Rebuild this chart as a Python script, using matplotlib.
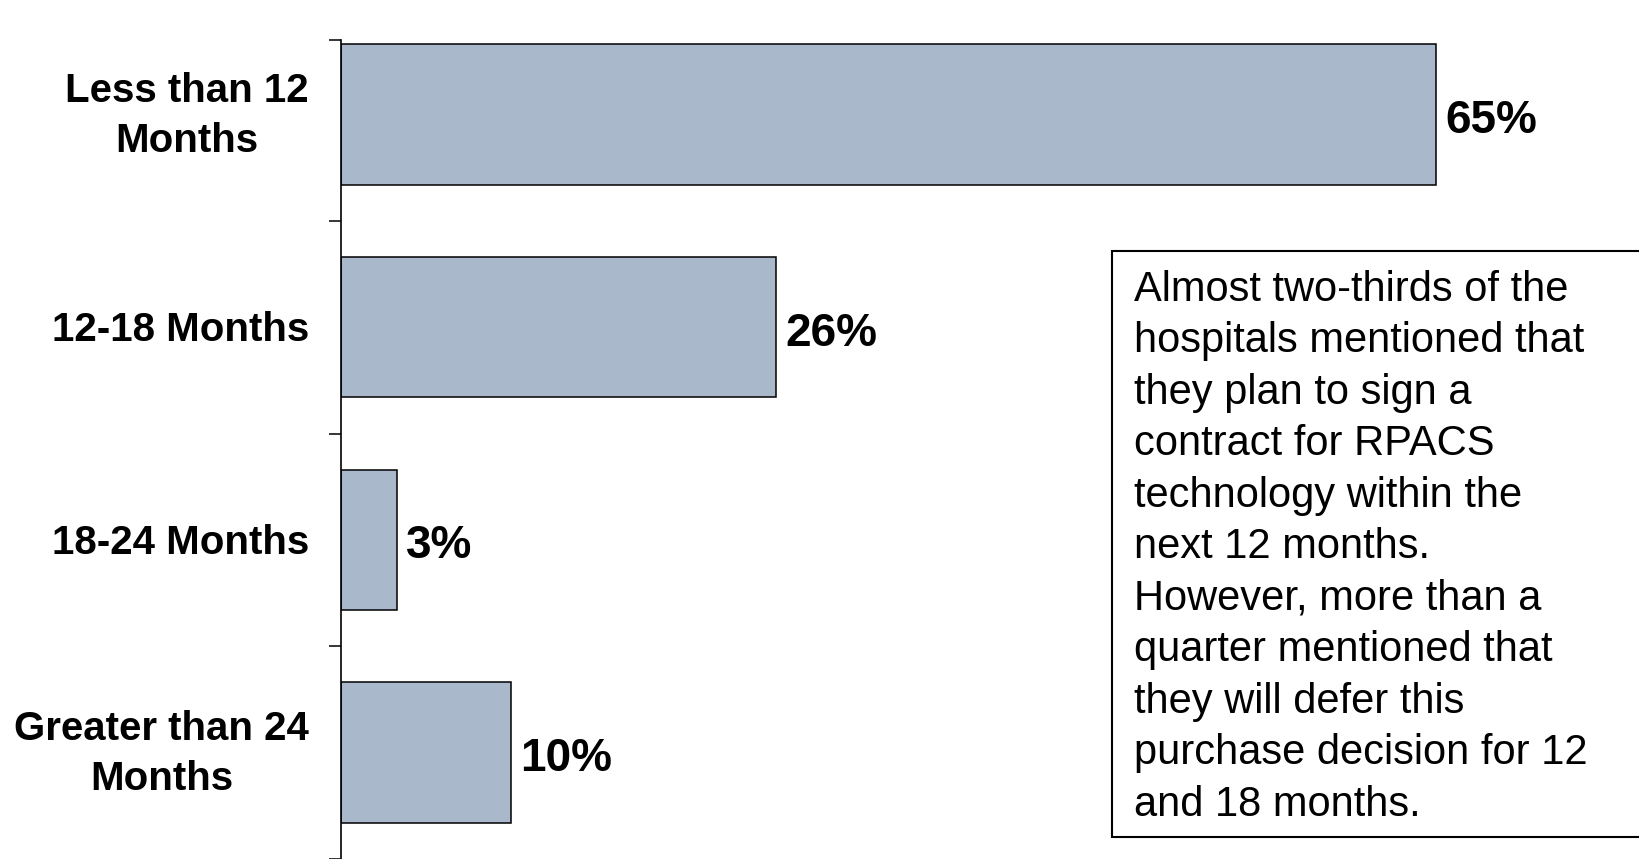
import matplotlib
matplotlib.use('Agg')
import matplotlib.pyplot as plt
from matplotlib.patches import Rectangle

plt.rcParams['font.family'] = ['Liberation Sans', 'DejaVu Sans']

categories = ['Less than 12\nMonths', '12-18 Months', '18-24 Months', 'Greater than 24\nMonths']
values = [65, 25.8, 3.3, 10.1]
note = ('Almost two-thirds of the\n'
        'hospitals mentioned that\n'
        'they plan to sign a\n'
        'contract for RPACS\n'
        'technology within the\n'
        'next 12 months.\n'
        'However, more than a\n'
        'quarter mentioned that\n'
        'they will defer this\n'
        'purchase decision for 12\n'
        'and 18 months.')

W, H = 1639, 859
fig = plt.figure(figsize=(W / 100, H / 100), dpi=100)
ax = fig.add_axes([341 / W, 0, (W - 341) / W, (H - 40) / H])

pos = list(range(len(categories)))
ax.barh(pos, values, height=0.66, color='#a9b9cb', edgecolor='black', linewidth=1.1)

ax.set_xlim(0, (W - 341) / 16.85)
ax.set_ylim(3.5, -0.35)

for p, v in zip(pos, values):
    ax.text(v + 0.55, p + 0.03, f'{round(v)}%', va='center', ha='left',
            fontsize=33, fontweight='bold')

# category labels, right-aligned left of the axis
for p, c in zip(pos, categories):
    dy = -1 if '\n' in c else -2
    ax.annotate(c, xy=(0, p), xycoords=('axes fraction', 'data'),
                xytext=(-23, dy), textcoords='offset points',
                ha='right', va='center', multialignment='center',
                fontsize=29, fontweight='bold', linespacing=1.38)

for s in ['top', 'right', 'bottom']:
    ax.spines[s].set_visible(False)
ax.spines['left'].set_linewidth(1.2)
ax.set_xticks([])
ax.set_yticks([-0.35, 0.5, 1.5, 2.5, 3.5])
ax.set_yticklabels([])
ax.tick_params(axis='y', length=9, width=1.1, direction='out')

fig.patches.append(Rectangle((1112 / W, 1 - 837 / H), (W - 1112 + 20) / W, (837 - 251) / H,
                             transform=fig.transFigure, facecolor='white',
                             edgecolor='black', linewidth=1.5, zorder=5))
fig.text(1134 / W, 1 - 270 / H, note, ha='left', va='top', fontsize=30,
         linespacing=1.37, zorder=6)

fig.savefig('out.png', dpi=100)
